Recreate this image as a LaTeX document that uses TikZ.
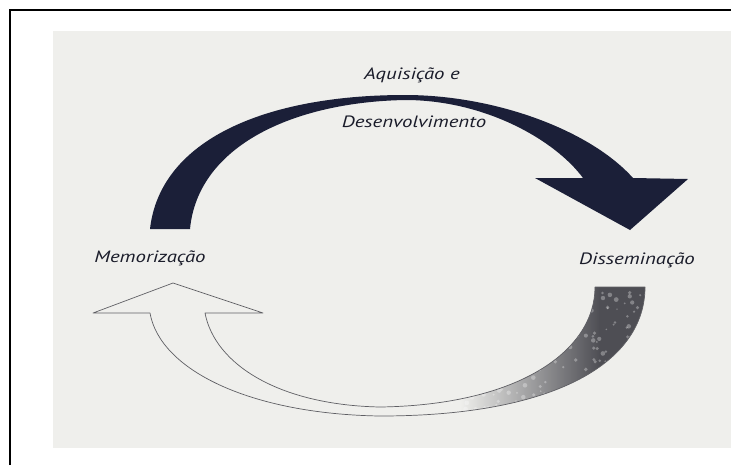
\documentclass[tikz,border=0pt]{standalone}
\usepackage{fontspec}
\newfontfamily\lblfont[FakeStretch=1.27]{PT Sans}
\definecolor{panel}{RGB}{239,239,236}
\definecolor{ink}{RGB}{27,31,56}
\definecolor{txt}{RGB}{26,28,42}
\definecolor{outline}{RGB}{95,95,100}
\definecolor{speckle}{RGB}{78,78,84}
\tikzset{
  lbl/.style={font=\lblfont\itshape\fontsize{14}{16}\selectfont, text=txt, inner sep=0pt},
  thinline/.style={draw=outline, line width=0.6pt, line join=round}
}
\begin{document}
\begin{tikzpicture}[x=0.03cm,y=-0.03cm]
\useasboundingbox (0,0) rectangle (731,465);
\fill[white] (0,0) rectangle (731,465);
% scanned page area
\fill[panel] (53,31) rectangle (731,448);
% frame corner lines
\draw[black, line width=1.1pt] (10,465) -- (10,10) -- (731,10);

% upper dark arrow: acquisition and development
\fill[ink] (190,229) -- (150,229)
  .. controls (160,140) and (265,95) .. (405,95)
  .. controls (495,95) and (590,130) .. (633,178)
  -- (688,179) -- (630,230) -- (535,178) -- (583,178)
  .. controls (555,140) and (485,100) .. (405,100)
  .. controls (295,102) and (198,145) .. (190,229) -- cycle;

% shaded, speckled tail of the lower arrow
\begin{scope}
  \clip (595,287) -- (645,287)
    .. controls (645,360) and (560,416) .. (380,416) -- (380,407)
    .. controls (520,405) and (595,350) .. (595,287) -- cycle;
  \shade[left color=panel, right color=speckle] (460,280) rectangle (600,420);
  \fill[speckle] (599,280) rectangle (650,420);
  \pgfmathsetseed{7}
  \foreach \i in {1,...,220}{
    \pgfmathsetmacro\rx{450+200*rnd}
    \pgfmathsetmacro\ry{285+135*rnd}
    \pgfmathsetmacro\rr{0.8+1.6*rnd}
    \fill[white, opacity=0.3] (\rx,\ry) circle (\rr);
  }
\end{scope}

% lower outlined arrow: memorization
\draw[thinline] (595,287) -- (645,287)
  .. controls (645,360) and (560,416) .. (380,416)
  .. controls (250,414) and (160,370) .. (150,313)
  -- (93,313) -- (173,283) -- (263,313) -- (205,313)
  .. controls (215,365) and (280,405) .. (380,407)
  .. controls (520,405) and (595,350) .. (595,287);

% labels
\node[lbl] (aq)  at (412,75)  {Aquisição e};
\node[lbl] (des) at (414,122) {Desenvolvimento};
\node[lbl] (mem) at (150,258) {Memorização};
\node[lbl] (dis) at (637,260) {Disseminação};
\end{tikzpicture}
\end{document}
